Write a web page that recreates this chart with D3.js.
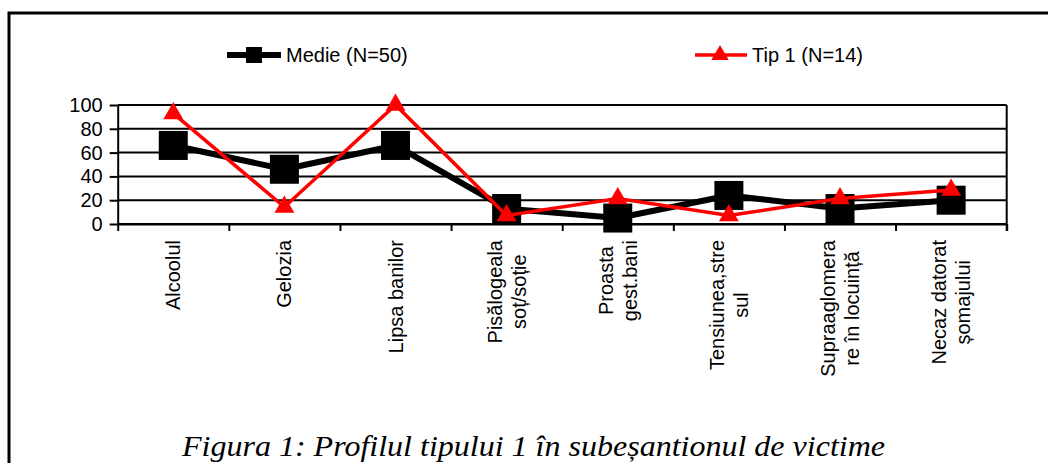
<!DOCTYPE html>
<html>
<head>
<meta charset="utf-8">
<script src="https://cdn.jsdelivr.net/npm/d3@7"></script>
<style>
  html, body { margin: 0; padding: 0; background: #fff; }
  svg { display: block; }
  .sans { font-family: "Liberation Sans", Arial, Helvetica, sans-serif; font-size: 20px; }
  .serif { font-family: "Liberation Serif", "Times New Roman", Times, serif; font-style: italic; font-size: 30px; }
</style>
</head>
<body>
<div class="js-chart"></div>
<script>
// chart data
const categories = [
  ["Alcoolul"],
  ["Gelozia"],
  ["Lipsa banilor"],
  ["Pisălogeala", "soț/soție"],
  ["Proasta", "gest.bani"],
  ["Tensiunea,stre", "sul"],
  ["Supraaglomera", "re în locuință"],
  ["Necaz datorat", "șomajului"]
];
const medie = [66, 46, 66, 13, 5, 24, 13, 20];
const tip1 = [92.9, 14.3, 100, 7.1, 21.4, 7.1, 21.4, 28.6];
const yTicks = [0, 20, 40, 60, 80, 100];
const seriesNames = ["Medie (N=50)", "Tip 1 (N=14)"];
const caption = "Figura 1: Profilul tipului 1 în subeșantionul de victime";

const width = 1048
    , height = 463
    , plot = {left: 117.7, right: 1006.7, top: 105, bottom: 224}
    ;

const svg = d3.select(".js-chart")
  .append("svg")
  .attr("width", width)
  .attr("height", height);

// outer frame (only left and top edges are visible)
svg.append("rect")
  .attr("x", 9).attr("y", 13)
  .attr("width", 1200).attr("height", 600)
  .attr("fill", "none")
  .attr("stroke", "#000")
  .attr("stroke-width", 3);

const x = d3.scaleBand()
  .domain(d3.range(categories.length))
  .range([plot.left, plot.right]);

const xEdge = d3.scaleLinear()
  .domain([0, categories.length])
  .range([plot.left, plot.right]);

const y = d3.scaleLinear()
  .domain([0, 100])
  .range([plot.bottom, plot.top]);

const cx = i => x(i) + x.bandwidth() / 2;

// gridlines
svg.append("g")
  .selectAll("line")
  .data(yTicks)
  .join("line")
    .attr("x1", plot.left).attr("x2", plot.right)
    .attr("y1", d => y(d)).attr("y2", d => y(d))
    .attr("stroke", "#000")
    .attr("stroke-width", 2);

// right edge of plot area
svg.append("line")
  .attr("x1", plot.right).attr("x2", plot.right)
  .attr("y1", plot.top).attr("y2", plot.bottom + 7)
  .attr("stroke", "#000")
  .attr("stroke-width", 2);

// y axis
const yAxis = svg.append("g")
  .attr("transform", `translate(${plot.left},0)`)
  .call(d3.axisLeft(y).tickValues(yTicks).tickSize(8).tickSizeOuter(0).tickPadding(7));
yAxis.attr("font-family", null).attr("font-size", null).attr("class", "sans");
yAxis.select(".domain").attr("stroke-width", 2);
yAxis.selectAll(".tick line").attr("stroke-width", 2);
yAxis.selectAll("text").attr("fill", "#000");

// x axis, ticks on category boundaries
const xAxis = svg.append("g")
  .attr("transform", `translate(0,${plot.bottom})`)
  .call(d3.axisBottom(xEdge).tickValues(d3.range(categories.length + 1)).tickSize(7).tickSizeOuter(0).tickFormat(""));
xAxis.select(".domain").attr("stroke-width", 2);
xAxis.selectAll(".tick line").attr("stroke-width", 2);

// rotated category labels, lines centred, block top at y=240
const lineH = 24;
const labelG = svg.append("g").attr("class", "sans");

categories.forEach((lines, i) => {
  const g = labelG.append("g")
    .attr("transform", `translate(${cx(i)},240) rotate(-90)`);
  const texts = g.selectAll("text")
    .data(lines)
    .join("text")
      .attr("text-anchor", "middle")
      .attr("y", (d, j) => (j - (lines.length - 1) / 2) * lineH + 7)
      .text(d => d);
  const maxLen = d3.max(texts.nodes(), n => n.getComputedTextLength());
  texts.attr("x", -maxLen / 2);
});

// series lines
const line = d3.line()
  .x((d, i) => cx(i))
  .y(d => y(d));

svg.append("path")
  .datum(medie)
  .attr("d", line)
  .attr("fill", "none")
  .attr("stroke", "#000")
  .attr("stroke-width", 6)
  .attr("stroke-linejoin", "round");

svg.append("g")
  .selectAll("rect")
  .data(medie)
  .join("rect")
    .attr("x", (d, i) => cx(i) - 14.5)
    .attr("y", d => y(d) - 14.5)
    .attr("width", 29)
    .attr("height", 29)
    .attr("fill", "#000");

svg.append("path")
  .datum(tip1)
  .attr("d", line)
  .attr("fill", "none")
  .attr("stroke", "#ff0000")
  .attr("stroke-width", 3.5);

const tri = d3.symbol().type(d3.symbolTriangle).size(170);
svg.append("g")
  .selectAll("path")
  .data(tip1)
  .join("path")
    .attr("transform", (d, i) => `translate(${cx(i)},${y(d)})`)
    .attr("d", tri)
    .attr("fill", "#ff0000");

// legend
const legend = svg.append("g").attr("class", "sans");

const lg1 = legend.append("g").attr("transform", "translate(227,55)");
lg1.append("line").attr("x1", 0).attr("x2", 54)
  .attr("stroke", "#000").attr("stroke-width", 6);
lg1.append("rect").attr("x", 19).attr("y", -8).attr("width", 16).attr("height", 16)
  .attr("fill", "#000");
lg1.append("text").attr("x", 59).attr("y", 7).text(seriesNames[0]);

const lg2 = legend.append("g").attr("transform", "translate(695,55)");
lg2.append("line").attr("x1", 0).attr("x2", 52)
  .attr("stroke", "#ff0000").attr("stroke-width", 3.5);
lg2.append("path").attr("transform", "translate(25,0)")
  .attr("d", d3.symbol().type(d3.symbolTriangle).size(130))
  .attr("fill", "#ff0000");
lg2.append("text").attr("x", 57).attr("y", 7).text(seriesNames[1]);

// caption
svg.append("text")
  .attr("class", "serif")
  .attr("x", 182)
  .attr("y", 456)
  .attr("textLength", 703)
  .attr("lengthAdjust", "spacingAndGlyphs")
  .text(caption);
</script>
</body>
</html>
